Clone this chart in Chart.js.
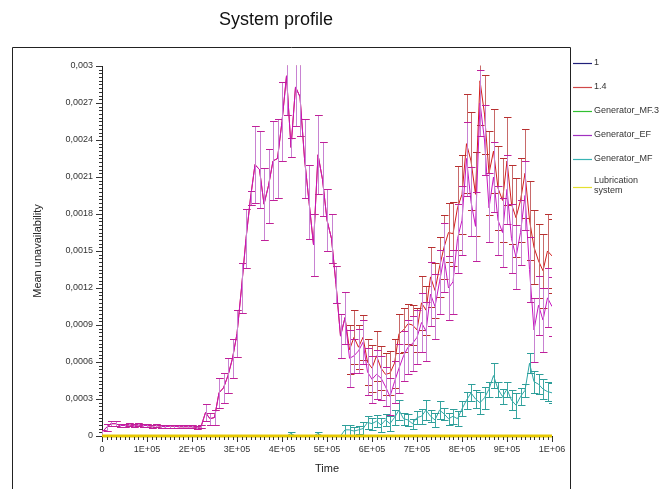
<!DOCTYPE html>
<html><head><meta charset="utf-8">
<script src="https://cdn.jsdelivr.net/npm/chart.js@4.4.1/dist/chart.umd.min.js"></script>
<style>html,body{margin:0;padding:0;background:#fff}canvas{display:block}</style>
</head><body>
<canvas id="c" width="669" height="489"></canvas>
<script>
const chartTitle = 'System profile';
const xAxisTitle = 'Time';
const yAxisTitle = 'Mean unavailability';

const xTickValues = [0,1e5,2e5,3e5,4e5,5e5,6e5,7e5,8e5,9e5,1e6];
const xTickLabels = ['0','1E+05','2E+05','3E+05','4E+05','5E+05','6E+05','7E+05','8E+05','9E+05','1E+06'];
const yTickValues = [0,0.0003,0.0006,0.0009,0.0012,0.0015,0.0018,0.0021,0.0024,0.0027,0.003];
const yTickLabels = ['0','0,0003','0,0006','0,0009','0,0012','0,0015','0,0018','0,0021','0,0024','0,0027','0,003'];

const timePoints = [0,1e4,2e4,3e4,4e4,5e4,6e4,7e4,8e4,9e4,
 10e4,11e4,12e4,13e4,14e4,15e4,16e4,17e4,18e4,19e4,
 20e4,21e4,22e4,23e4,24e4,25e4,26e4,27e4,28e4,29e4,
 30e4,31e4,32e4,33e4,34e4,35e4,36e4,37e4,38e4,39e4,
 40e4,41e4,42e4,43e4,44e4,45e4,46e4,47e4,48e4,49e4,
 50e4,51e4,52e4,53e4,54e4,55e4,56e4,57e4,58e4,59e4,
 60e4,61e4,62e4,63e4,64e4,65e4,66e4,67e4,68e4,69e4,
 70e4,71e4,72e4,73e4,74e4,75e4,76e4,77e4,78e4,79e4,
 80e4,81e4,82e4,83e4,84e4,85e4,86e4,87e4,88e4,89e4,
 90e4,91e4,92e4,93e4,94e4,95e4,96e4,97e4,98e4,99e4,100e4];

// Generator_EF
const genEF = [0.3e-4,0.7e-4,1.0e-4,1.0e-4,0.85e-4,0.85e-4,0.9e-4,0.85e-4,0.9e-4,0.85e-4,
 0.85e-4,0.8e-4,0.85e-4,0.8e-4,0.75e-4,0.8e-4,0.8e-4,0.75e-4,0.75e-4,0.75e-4,
 0.75e-4,0.7e-4,0.75e-4,1.9e-4,1.4e-4,1.5e-4,3.5e-4,3.9e-4,4.9e-4,6.3e-4,
 8.3e-4,12.0e-4,16.0e-4,19.3e-4,22.0e-4,21.6e-4,18.8e-4,20.3e-4,22.3e-4,22.5e-4,
 25.5e-4,29.2e-4,23.4e-4,28.3e-4,27.5e-4,22.5e-4,19.0e-4,15.5e-4,22.8e-4,20.8e-4,
 17.5e-4,16.0e-4,12.3e-4,8.1e-4,9.6e-4,6.3e-4,6.5e-4,6.9e-4,7.6e-4,5.2e-4,
 4.6e-4,5.0e-4,4.7e-4,4.0e-4,3.2e-4,4.4e-4,5.5e-4,6.5e-4,7.2e-4,7.5e-4,
 8.0e-4,9.2e-4,8.5e-4,11.5e-4,10.5e-4,12.5e-4,14.5e-4,12.0e-4,12.5e-4,16.0e-4,
 17.5e-4,22.5e-4,19.0e-4,17.0e-4,27.0e-4,24.0e-4,18.5e-4,21.0e-4,17.5e-4,16.5e-4,
 20.0e-4,16.0e-4,14.5e-4,16.5e-4,19.5e-4,13.5e-4,8.6e-4,10.6e-4,9.4e-4,11.2e-4,10.5e-4];
const genEFErr = [0.2e-4,0.3e-4,0.2e-4,0.2e-4,0.12e-4,0.12e-4,0.12e-4,0.12e-4,0.12e-4,0.12e-4,
 0.12e-4,0.12e-4,0.12e-4,0.12e-4,0.12e-4,0.12e-4,0.12e-4,0.12e-4,0.12e-4,0.12e-4,
 0.12e-4,0.12e-4,0.12e-4,0.7e-4,0.5e-4,0.6e-4,1.2e-4,1.2e-4,1.4e-4,1.6e-4,
 1.9e-4,2.0e-4,2.4e-4,0.6e-4,3.1e-4,3.1e-4,2.9e-4,3.0e-4,3.2e-4,3.2e-4,
 3.2e-4,3.2e-4,0.8e-4,3.2e-4,3.2e-4,3.2e-4,3.0e-4,2.5e-4,3.2e-4,3.0e-4,
 2.5e-4,2.0e-4,1.5e-4,1.8e-4,2.1e-4,2.3e-4,1.4e-4,1.8e-4,1.8e-4,1.9e-4,
 1.9e-4,2.0e-4,1.8e-4,1.6e-4,1.5e-4,1.7e-4,2.0e-4,2.0e-4,2.2e-4,2.2e-4,
 2.2e-4,2.4e-4,2.4e-4,2.6e-4,2.6e-4,2.6e-4,2.8e-4,2.6e-4,2.6e-4,2.8e-4,
 2.8e-4,3.0e-4,2.8e-4,2.8e-4,2.7e-4,2.8e-4,2.8e-4,2.8e-4,2.8e-4,2.8e-4,
 2.8e-4,2.8e-4,2.6e-4,2.6e-4,2.8e-4,2.6e-4,2.6e-4,2.4e-4,2.6e-4,2.4e-4,2.4e-4];

// 1.4
const s14 = [0.3e-4,0.7e-4,1.0e-4,1.0e-4,0.85e-4,0.85e-4,0.9e-4,0.85e-4,0.9e-4,0.85e-4,
 0.85e-4,0.8e-4,0.85e-4,0.8e-4,0.75e-4,0.8e-4,0.8e-4,0.75e-4,0.75e-4,0.75e-4,
 0.75e-4,0.7e-4,0.75e-4,1.9e-4,1.4e-4,1.5e-4,3.5e-4,3.9e-4,4.9e-4,6.3e-4,
 8.3e-4,12.0e-4,16.0e-4,19.3e-4,22.0e-4,21.6e-4,18.8e-4,20.3e-4,22.3e-4,22.5e-4,
 25.5e-4,29.2e-4,23.4e-4,28.3e-4,27.5e-4,22.5e-4,19.0e-4,15.5e-4,22.8e-4,20.8e-4,
 17.5e-4,16.0e-4,12.3e-4,8.1e-4,9.6e-4,7.0e-4,8.0e-4,7.2e-4,8.0e-4,6.0e-4,
 5.5e-4,6.5e-4,5.5e-4,5.0e-4,5.1e-4,5.9e-4,8.3e-4,8.6e-4,9.1e-4,9.0e-4,
 8.6e-4,10.8e-4,10.2e-4,12.9e-4,11.8e-4,13.7e-4,15.3e-4,16.5e-4,16.4e-4,18.5e-4,
 19.6e-4,23.7e-4,22.3e-4,19.6e-4,28.8e-4,26.1e-4,21.3e-4,23.1e-4,20.1e-4,19.1e-4,
 22.3e-4,18.8e-4,17.7e-4,19.1e-4,21.3e-4,17.5e-4,15.3e-4,14.2e-4,13.4e-4,15.0e-4,14.6e-4];
const s14Err = [0.2e-4,0.3e-4,0.2e-4,0.2e-4,0.12e-4,0.12e-4,0.12e-4,0.12e-4,0.12e-4,0.12e-4,
 0.12e-4,0.12e-4,0.12e-4,0.12e-4,0.12e-4,0.12e-4,0.12e-4,0.12e-4,0.12e-4,0.12e-4,
 0.12e-4,0.12e-4,0.12e-4,0.7e-4,0.5e-4,0.6e-4,1.2e-4,1.2e-4,1.4e-4,1.6e-4,
 1.9e-4,2.0e-4,2.4e-4,0.6e-4,3.1e-4,3.1e-4,2.9e-4,3.0e-4,3.2e-4,3.2e-4,
 3.2e-4,3.2e-4,0.8e-4,3.2e-4,3.2e-4,3.2e-4,3.0e-4,2.5e-4,3.2e-4,3.0e-4,
 2.5e-4,2.0e-4,1.5e-4,1.8e-4,2.1e-4,2.0e-4,2.2e-4,1.8e-4,1.8e-4,1.9e-4,
 1.9e-4,2.0e-4,1.8e-4,1.7e-4,1.8e-4,2.0e-4,1.6e-4,1.8e-4,1.6e-4,1.6e-4,
 1.8e-4,2.2e-4,2.0e-4,2.4e-4,2.2e-4,2.4e-4,2.6e-4,2.4e-4,2.6e-4,3.4e-4,
 3.2e-4,4.0e-4,4.0e-4,3.4e-4,3.6e-4,3.2e-4,3.4e-4,3.4e-4,3.4e-4,3.4e-4,
 3.6e-4,3.2e-4,3.2e-4,3.4e-4,3.6e-4,3.2e-4,3.0e-4,3.0e-4,3.0e-4,3.0e-4,3.0e-4];

// Generator_MF
const genMF = [0,0,0,0,0,0,0,0,0,0, 0,0,0,0,0,0,0,0,0,0,
 0,0,0,0,0,0,0,0,0,0, 0,0,0,0,0,0,0,0,0,0,
 0,0,0.2e-4,0,0,0,0,0,0.2e-4,0, 0,0,0,0,0.5e-4,0.5e-4,0.4e-4,0.5e-4,0.6e-4,1.1e-4,
 1.0e-4,1.2e-4,0.9e-4,1.3e-4,1.0e-4,1.5e-4,2.1e-4,1.4e-4,1.3e-4,1.0e-4,
 1.5e-4,1.6e-4,2.1e-4,1.6e-4,1.3e-4,2.1e-4,1.8e-4,1.4e-4,1.6e-4,1.4e-4,
 2.2e-4,2.9e-4,3.5e-4,3.0e-4,2.7e-4,3.1e-4,3.8e-4,4.9e-4,3.8e-4,3.2e-4,
 3.8e-4,2.9e-4,2.5e-4,3.2e-4,3.7e-4,5.9e-4,4.4e-4,4.2e-4,3.8e-4,3.6e-4,3.5e-4];
const genMFErr = [0,0,0,0,0,0,0,0,0,0, 0,0,0,0,0,0,0,0,0,0,
 0,0,0,0,0,0,0,0,0,0, 0,0,0,0,0,0,0,0,0,0,
 0,0,0.12e-4,0,0,0,0,0,0.12e-4,0, 0,0,0,0,0.4e-4,0.4e-4,0.3e-4,0.3e-4,0.5e-4,0.5e-4,
 0.5e-4,0.5e-4,0.6e-4,0.5e-4,0.6e-4,0.6e-4,0.8e-4,0.5e-4,0.5e-4,0.4e-4,
 0.5e-4,0.6e-4,0.8e-4,0.5e-4,0.6e-4,0.7e-4,0.5e-4,0.5e-4,0.6e-4,0.6e-4,
 0.6e-4,0.7e-4,0.7e-4,0.7e-4,0.9e-4,0.9e-4,0.6e-4,1.0e-4,0.6e-4,0.6e-4,
 0.6e-4,0.8e-4,1.0e-4,0.7e-4,0.5e-4,0.8e-4,0.9e-4,0.8e-4,0.8e-4,0.8e-4,0.8e-4];

// "1", Generator_MF.3 and Lubrication system stay at zero
const zeroSeries = [0,0,0,0,0,0,0,0,0,0, 0,0,0,0,0,0,0,0,0,0, 0,0,0,0,0,0,0,0,0,0,
 0,0,0,0,0,0,0,0,0,0, 0,0,0,0,0,0,0,0,0,0, 0,0,0,0,0,0,0,0,0,0,
 0,0,0,0,0,0,0,0,0,0, 0,0,0,0,0,0,0,0,0,0, 0,0,0,0,0,0,0,0,0,0,
 0,0,0,0,0,0,0,0,0,0, 0];

const seriesNames = ['1','1.4','Generator_MF.3','Generator_EF','Generator_MF','Lubrication system'];

const pts = arr => timePoints.map((t, i) => ({x: t, y: arr[i]}));
const FONT = '"Liberation Sans", Arial, sans-serif';

function line(label, data, color, order, extra) {
  return Object.assign({label, data: pts(data), borderColor: color, backgroundColor: color,
    borderWidth: 1, pointRadius: 0, tension: 0, fill: false, order}, extra || {});
}

const datasets = [
  line(seriesNames[0], zeroSeries, '#1c1c78', 5, {legendColor: '#20207a'}),
  line(seriesNames[1], s14, '#d41c1c', 2, {errors: s14Err, errColor: '#c86a6a', capColor: '#b83030', legendColor: '#d04848'}),
  line(seriesNames[2], zeroSeries, '#3cc03c', 4, {legendColor: '#30c030'}),
  line(seriesNames[3], genEF, '#c814c0', 1, {errors: genEFErr, errColor: '#c882d2', capColor: '#c0209a', legendColor: '#a030c0'}),
  line(seriesNames[4], genMF, '#2ea6a6', 3, {errors: genMFErr, errColor: '#3aa8a2', capColor: '#2e9e9a', legendColor: '#38b4b4'}),
  line(seriesNames[5], zeroSeries, '#e6c800', 0, {borderWidth: 3, clip: 4, legendColor: '#e4e030'})
];

const errorBars = {
  id: 'errorBars',
  afterDatasetDraw(chart, args) {
    const ds = chart.data.datasets[args.index];
    if (!ds.errors) return;
    const {ctx, chartArea: a, scales: {x, y}} = chart;
    ctx.save();
    ctx.beginPath(); ctx.rect(a.left, a.top - 0.5, a.right - a.left, a.bottom - a.top + 1); ctx.clip();
    ctx.lineWidth = 1;
    ds.data.forEach((p, i) => {
      const e = ds.errors[i];
      if (p.y == null || !e) return;
      const px = Math.round(x.getPixelForValue(p.x)) + 0.5;
      const yt = Math.round(y.getPixelForValue(p.y + e)) + 0.5;
      const yb = Math.round(y.getPixelForValue(p.y - e)) + 0.5;
      ctx.strokeStyle = ds.errColor;
      ctx.beginPath(); ctx.moveTo(px, yt); ctx.lineTo(px, yb); ctx.stroke();
      ctx.strokeStyle = ds.capColor;
      ctx.beginPath();
      ctx.moveTo(px - 3.5, yt); ctx.lineTo(px + 4, yt);
      ctx.moveTo(px - 3.5, yb); ctx.lineTo(px + 4, yb);
      ctx.stroke();
    });
    ctx.restore();
  }
};

const decorations = {
  id: 'decorations',
  afterDraw(chart) {
    const {ctx, chartArea: a, scales: {x, y}} = chart;
    ctx.save();
    // minor ticks
    ctx.strokeStyle = '#333'; ctx.lineWidth = 1;
    ctx.beginPath();
    for (let k = 0; k <= 100; k++) {
      const px = Math.round(x.getPixelForValue(k * 1e4)) + 0.5;
      ctx.moveTo(px, a.bottom + 1); ctx.lineTo(px, a.bottom + 4);
      const py = Math.round(y.getPixelForValue(k * 3e-5)) + 0.5;
      ctx.moveTo(a.left, py); ctx.lineTo(a.left - 3, py);
    }
    ctx.stroke();
    // frame
    ctx.strokeStyle = '#222';
    ctx.beginPath();
    ctx.moveTo(12.5, 489); ctx.lineTo(12.5, 47.5); ctx.lineTo(570.5, 47.5); ctx.lineTo(570.5, 489);
    ctx.stroke();
    // legend
    ctx.font = '9px ' + FONT;
    ctx.textBaseline = 'middle';
    ctx.fillStyle = '#333';
    let yy = 63;
    chart.data.datasets.forEach(ds => {
      const words = ds.label.split(' ');
      const lines = words.length > 1 ? words : [ds.label];
      const lineY = lines.length > 1 ? yy + 4 : yy;
      ctx.strokeStyle = ds.legendColor || ds.borderColor;
      ctx.lineWidth = 1.2;
      ctx.beginPath(); ctx.moveTo(573, lineY + 0.5); ctx.lineTo(592, lineY + 0.5); ctx.stroke();
      lines.forEach((t, j) => ctx.fillText(t, 594, yy - (lines.length > 1 ? 2 : 0) + j * 10));
      yy += 24;
    });
    ctx.restore();
  }
};

new Chart(document.getElementById('c'), {
  type: 'line',
  data: {datasets},
  plugins: [errorBars, decorations],
  options: {
    responsive: false, animation: false, devicePixelRatio: 1,
    layout: {padding: {left: 0, right: 117, top: 0, bottom: 0}},
    plugins: {
      legend: {display: false}, tooltip: {enabled: false},
      title: {display: true, text: chartTitle, color: '#111', font: {family: FONT, size: 18, weight: 'normal'},
              padding: {top: 9, bottom: 35.4}}
    },
    scales: {
      x: {
        type: 'linear', min: 0, max: 1e6,
        afterFit: s => { s.height = 53; },
        afterBuildTicks: s => { s.ticks = xTickValues.map(v => ({value: v})); },
        grid: {display: true, drawOnChartArea: false, drawTicks: true, tickLength: 6, color: '#333'},
        border: {display: true, color: '#222'},
        ticks: {autoSkip: false, maxRotation: 0, padding: 2, color: '#333', font: {family: FONT, size: 9},
                callback: (v, i) => xTickLabels[i]},
        title: {display: true, text: xAxisTitle, color: '#222', font: {family: FONT, size: 11}, padding: {top: 0, bottom: 13.4}}
      },
      y: {
        type: 'linear', min: 0, max: 0.003,
        afterFit: s => { s.width = 102; },
        afterBuildTicks: s => { s.ticks = yTickValues.map(v => ({value: v})); },
        grid: {display: true, drawOnChartArea: false, drawTicks: true, tickLength: 6, color: '#333'},
        border: {display: true, color: '#222'},
        ticks: {padding: 3, color: '#333', font: {family: FONT, size: 9},
                callback: (v, i) => yTickLabels[i]},
        title: {display: true, text: yAxisTitle, color: '#222', font: {family: FONT, size: 11}, padding: {top: 31, bottom: 0}}
      }
    }
  }
});
</script>
</body></html>
